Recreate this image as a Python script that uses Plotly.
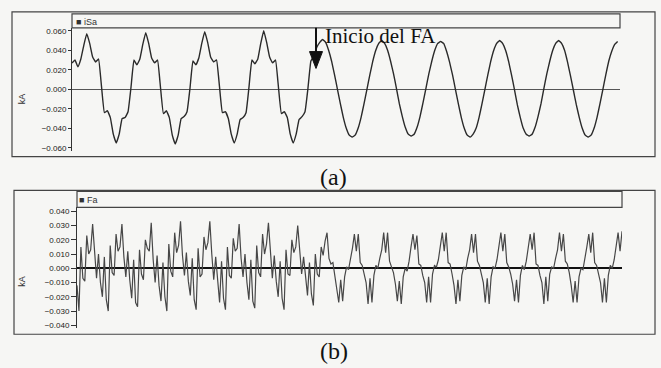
import plotly.graph_objects as go

# ---------------- data ----------------
# Panel (a): line current iSa in kA, one sample ~ 1 ms
isa_kA = [
    0.027, 0.030, 0.023, 0.031, 0.045,
    0.057, 0.047, 0.033, 0.028, 0.031, 0.003, -0.024, -0.022, -0.029, -0.046,
    -0.055, -0.046, -0.030, -0.029, -0.023, 0.002, 0.030, 0.025, 0.031, 0.046,
    0.058, 0.047, 0.032, 0.027, 0.030, 0.002, -0.025, -0.022, -0.029, -0.047,
    -0.056, -0.047, -0.030, -0.028, -0.023, 0.001, 0.029, 0.025, 0.032, 0.047,
    0.059, 0.048, 0.033, 0.028, 0.030, 0.003, -0.024, -0.023, -0.030, -0.046,
    -0.055, -0.046, -0.031, -0.029, -0.024, 0.002, 0.030, 0.026, 0.031, 0.047,
    0.060, 0.048, 0.033, 0.027, 0.030, 0.002, -0.025, -0.023, -0.029, -0.046,
    -0.055, -0.046, -0.031, -0.028, -0.023, 0.001, 0.029,
    0.034, 0.043, 0.048,
    0.051, 0.048, 0.040, 0.029, 0.015, 0.000, -0.015, -0.029, -0.040, -0.047,
    -0.049, -0.047, -0.040, -0.029, -0.015, 0.000, 0.015, 0.029, 0.040, 0.047,
    0.050, 0.047, 0.040, 0.029, 0.016, 0.001, -0.015, -0.028, -0.039, -0.046,
    -0.048, -0.046, -0.039, -0.028, -0.014, 0.001, 0.016, 0.029, 0.040, 0.047,
    0.049, 0.047, 0.039, 0.028, 0.015, 0.000, -0.015, -0.029, -0.040, -0.047,
    -0.049, -0.046, -0.040, -0.029, -0.015, 0.000, 0.015, 0.029, 0.040, 0.047,
    0.050, 0.047, 0.040, 0.029, 0.015, 0.000, -0.016, -0.029, -0.040, -0.046,
    -0.048, -0.046, -0.039, -0.028, -0.015, 0.001, 0.016, 0.029, 0.040, 0.047,
    0.050, 0.047, 0.040, 0.028, 0.014, -0.001, -0.016, -0.029, -0.040, -0.047,
    -0.049, -0.047, -0.040, -0.029, -0.015, 0.000, 0.015, 0.029, 0.039, 0.046,
    0.049,
]

# Panel (b): filter current Fa in kA
fa_kA = [
    -0.012,
    -0.030, 0.015, -0.007, -0.009, 0.023, 0.010, 0.013, 0.031, 0.010, -0.007, 0.010, -0.010, -0.020, 0.008, -0.022,
    -0.030, 0.016, -0.003, -0.005, 0.024, 0.012, 0.015, 0.031, 0.008, -0.006, 0.012, -0.008, -0.021, 0.006, -0.024,
    -0.027, 0.013, -0.004, -0.008, 0.020, 0.014, 0.012, 0.032, 0.006, -0.010, 0.009, -0.012, -0.023, 0.004, -0.020,
    -0.030, 0.017, -0.002, -0.006, 0.025, 0.011, 0.016, 0.033, 0.009, -0.005, 0.011, -0.009, -0.019, 0.007, -0.022,
    -0.029, 0.014, -0.006, -0.004, 0.022, 0.013, 0.018, 0.033, 0.010, -0.008, 0.008, -0.011, -0.024, 0.005, -0.021,
    -0.029, 0.015, -0.005, -0.007, 0.021, 0.012, 0.014, 0.031, 0.007, -0.006, 0.010, -0.010, -0.022, 0.006, -0.023,
    -0.028, 0.016, -0.003, -0.006, 0.024, 0.010, 0.017, 0.032, 0.008, -0.007, 0.009, -0.009, -0.020, 0.005, -0.021,
    -0.029, 0.013, -0.004, -0.005, 0.020, 0.011, 0.015, 0.030, 0.009, -0.004, 0.008, -0.008, -0.019, 0.004, -0.018,
    -0.026, 0.010, -0.004, -0.006, 0.015, 0.009, 0.019, 0.025, 0.007, 0.003, 0.004, -0.006, -0.013,
    -0.024, -0.008, -0.023, -0.006, 0.001, -0.001, 0.006, 0.014, 0.024, 0.012, 0.024, 0.004, 0.002, -0.004, -0.010,
    -0.025, -0.007, -0.024, -0.005, 0.002, 0.000, 0.007, 0.013, 0.025, 0.011, 0.025, 0.005, 0.001, -0.003, -0.011,
    -0.023, -0.009, -0.025, -0.006, 0.000, -0.002, 0.005, 0.015, 0.024, 0.013, 0.023, 0.003, 0.002, -0.005, -0.010,
    -0.024, -0.006, -0.024, -0.004, 0.002, 0.001, 0.006, 0.014, 0.025, 0.012, 0.025, 0.004, 0.003, -0.004, -0.012,
    -0.025, -0.008, -0.023, -0.005, 0.001, -0.001, 0.007, 0.013, 0.024, 0.011, 0.024, 0.005, 0.002, -0.003, -0.010,
    -0.024, -0.007, -0.025, -0.006, 0.001, 0.000, 0.006, 0.015, 0.025, 0.012, 0.024, 0.004, 0.001, -0.004, -0.011,
    -0.023, -0.008, -0.024, -0.005, 0.002, -0.001, 0.005, 0.014, 0.024, 0.013, 0.025, 0.003, 0.002, -0.005, -0.010,
    -0.025, -0.006, -0.023, -0.004, 0.001, 0.000, 0.007, 0.013, 0.025, 0.012, 0.024, 0.005, 0.003, -0.003, -0.012,
    -0.024, -0.009, -0.024, -0.006, 0.000, -0.001, 0.006, 0.015, 0.024, 0.011, 0.025, 0.004, 0.002, -0.004, -0.010,
    -0.024, -0.007, -0.024, -0.005, 0.002, 0.000, 0.006, 0.014, 0.025, 0.012, 0.026,
]

ya_ticks = [0.060, 0.040, 0.020, 0.000, -0.020, -0.040, -0.060]
yb_ticks = [0.040, 0.030, 0.020, 0.010, 0.000, -0.010, -0.020, -0.030, -0.040]
series_a = "iSa"
series_b = "Fa"
note_text = "Inicio del FA"

# ---------------- layout helpers ----------------
W, H = 661, 368
def px(x):
    return x / W
def py(y):
    return 1 - y / H

BG = "#f6f6f4"
INK = "#333333"
sans = "Liberation Sans, Arial, sans-serif"
serif = "Liberation Serif, Times New Roman, serif"

fig = go.Figure()
fig.add_trace(go.Scatter(
    x=list(range(len(isa_kA))), y=isa_kA, mode="lines",
    line=dict(color="#2a2a2a", width=1.4, shape="spline", smoothing=0.3),
    xaxis="x", yaxis="y", showlegend=False, hoverinfo="skip"))
fig.add_trace(go.Scatter(
    x=list(range(len(fa_kA))), y=fa_kA, mode="lines",
    line=dict(color="#474747", width=1.2),
    xaxis="x2", yaxis="y2", showlegend=False, hoverinfo="skip"))

yax_common = dict(
    showgrid=False, showline=True, linecolor=INK, linewidth=1,
    ticks="outside", tickcolor=INK, tickformat=".3f",
    tickfont=dict(family=sans, size=8, color="#222"),
    zeroline=True, fixedrange=True,
)

fig.update_layout(
    width=W, height=H, margin=dict(l=0, r=0, t=0, b=0),
    paper_bgcolor=BG, plot_bgcolor=BG,
    xaxis=dict(domain=[px(72), px(620)], range=[0, 185.8], visible=False),
    yaxis=dict(domain=[py(151), py(27)], range=[-0.063, 0.063],
               tickvals=ya_ticks, ticklen=3, zerolinecolor="#555",
               zerolinewidth=1, **yax_common),
    xaxis2=dict(domain=[px(77), px(622)], range=[0, 279], visible=False,
                anchor="y2"),
    yaxis2=dict(domain=[py(330), py(208)], range=[-0.0421, 0.0428],
                tickvals=yb_ticks, ticklen=5, zerolinecolor="#111",
                zerolinewidth=2, anchor="x2", **yax_common),
)

shapes = []
# outer frames
shapes.append(dict(type="rect", xref="paper", yref="paper",
                   x0=px(12), x1=px(655), y0=py(157), y1=py(11),
                   line=dict(color="#444", width=1.2)))
shapes.append(dict(type="rect", xref="paper", yref="paper",
                   x0=px(14), x1=px(655), y0=py(336), y1=py(191),
                   line=dict(color="#444", width=1.2)))
# legend boxes
shapes.append(dict(type="rect", xref="paper", yref="paper",
                   x0=px(72), x1=px(620), y0=py(27), y1=py(13),
                   line=dict(color="#444", width=1.2)))
shapes.append(dict(type="rect", xref="paper", yref="paper",
                   x0=px(77), x1=px(622), y0=py(208), y1=py(192),
                   line=dict(color="#444", width=1.2)))
# arrow marking the fault start
shapes.append(dict(type="line", xref="paper", yref="paper",
                   x0=px(316), x1=px(316), y0=py(27), y1=py(54),
                   line=dict(color="#111", width=2)))
shapes.append(dict(type="path", xref="paper", yref="paper",
                   path=f"M {px(309.5)},{py(51)} L {px(322.5)},{py(51)} L {px(316)},{py(68)} Z",
                   fillcolor="#111", line=dict(color="#111", width=1)))
fig.update_layout(shapes=shapes)

ann = [
    dict(x=px(74), y=py(21), xref="paper", yref="paper", text="■ " + series_a,
         showarrow=False, xanchor="left", yanchor="middle",
         font=dict(family=sans, size=9, color="#333")),
    dict(x=px(77), y=py(201), xref="paper", yref="paper", text="■ " + series_b,
         showarrow=False, xanchor="left", yanchor="middle",
         font=dict(family=sans, size=9, color="#333")),
    dict(x=px(22), y=py(99), xref="paper", yref="paper", text="kA",
         showarrow=False, textangle=-90, xanchor="center", yanchor="middle",
         font=dict(family=sans, size=9, color="#333")),
    dict(x=px(22), y=py(283), xref="paper", yref="paper", text="kA",
         showarrow=False, textangle=-90, xanchor="center", yanchor="middle",
         font=dict(family=sans, size=9, color="#333")),
    dict(x=px(323), y=py(35), xref="paper", yref="paper", text=note_text,
         showarrow=False, xanchor="left", yanchor="middle",
         font=dict(family=serif, size=21, color="#111")),
    dict(x=px(333), y=py(177), xref="paper", yref="paper", text="(a)",
         showarrow=False, xanchor="center", yanchor="middle",
         font=dict(family=serif, size=24, color="#111")),
    dict(x=px(334), y=py(353), xref="paper", yref="paper", text="(b)",
         showarrow=False, xanchor="center", yanchor="middle",
         font=dict(family=serif, size=24, color="#111")),
]
fig.update_layout(annotations=ann)

fig.write_html("out.html")
